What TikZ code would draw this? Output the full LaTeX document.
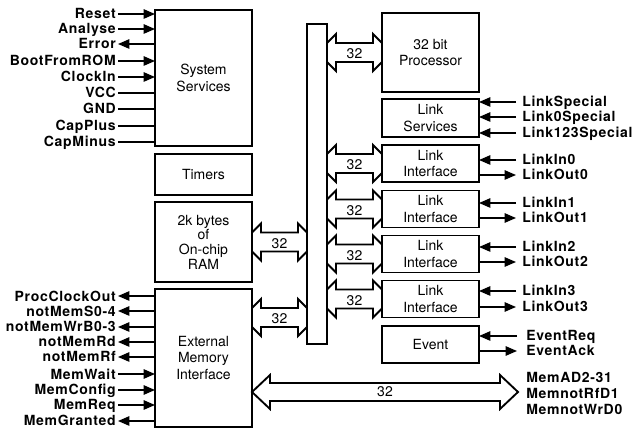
\documentclass[tikz,border=0pt]{standalone}
\usepackage{fontspec}
\setmainfont{TeX Gyre Heros}
\newfontfamily\pinfont[LetterSpace=5]{TeX Gyre Heros}
\usetikzlibrary{arrows.meta,calc}

% fat bus arrow, tips cut off by the boxes it joins
\newcommand{\busarrow}[3]{%
  \draw[busline] ($(#1)+(0,-9.5)$) -- ($(#1)+(9,-18.5)$) -- ($(#1)+(9,-9.5)$)
    -- ($(#2)+(-9,-9.5)$) -- ($(#2)+(-9,-18.5)$) -- ($(#2)+(0,-9.5)$)
    -- ($(#2)+(0,9.5)$) -- ($(#2)+(-9,18.5)$) -- ($(#2)+(-9,9.5)$)
    -- ($(#1)+(9,9.5)$) -- ($(#1)+(9,18.5)$) -- ($(#1)+(0,9.5)$) -- cycle;
  \node[buslabel] at ($($(#1)!.5!(#2)$)+(0,1.5)$) {#3};}
% fat bus arrow with pointed tips
\newcommand{\memarrow}[3]{%
  \draw[busline] (#1) -- ($(#1)+(18,-17)$) -- ($(#1)+(18,-9)$)
    -- ($(#2)+(-18,-9)$) -- ($(#2)+(-18,-17)$) -- (#2)
    -- ($(#2)+(-18,17)$) -- ($(#2)+(-18,9)$)
    -- ($(#1)+(18,9)$) -- ($(#1)+(18,17)$) -- cycle;
  \node[buslabel] at ($(#1)!.5!(#2)$) {#3};}

\begin{document}
\begin{tikzpicture}[x=0.75pt,y=-0.75pt,>={Triangle[length=8.5pt,width=7pt]},
    block/.style={draw,line width=1.4pt,inner sep=0pt,outer sep=0pt,
      minimum width=72.75pt,align=center,font=\fontsize{10.5}{12.5}\selectfont},
    pin/.style={font=\pinfont\bfseries\fontsize{10.5}{12}\selectfont,
      text height=7.5pt,text depth=0pt,inner ysep=0pt,inner xsep=1.5pt},
    rpin/.style={pin,anchor=west,inner xsep=4.5pt},
    lpin/.style={pin,anchor=east},
    busline/.style={line width=1.4pt,line join=miter},
    buslabel/.style={font=\fontsize{10.5}{12}\selectfont,inner sep=0pt}]
  \useasboundingbox (0,0) rectangle (637,435);

  % blocks
  \node[block,minimum height=102pt] (sys) at (203.5,78) {System\\Services};
  \node[block,minimum height=30.75pt] (tmr) at (203.5,174.5) {Timers};
  \node[block,minimum height=60pt,font=\fontsize{10.5}{11}\selectfont] (ram)
    at (203.5,242) {2k bytes\\of\\On-chip\\RAM};
  \node[block,minimum height=103.5pt] (emi) at (203.5,358) {External\\Memory\\Interface};
  \node[block,minimum width=15pt,minimum height=240pt] (bus) at (317,184) {};
  \node[block,minimum height=59.25pt] (cpu) at (430.5,52.5) {32 bit\\Processor};
  \node[block,minimum height=28.5pt] (lsv) at (430.5,118) {Link\\Services};
  \node[block,minimum height=27.75pt] (li0) at (430.5,163.5) {Link\\Interface};
  \node[block,minimum height=27.75pt] (li1) at (430.5,209) {Link\\Interface};
  \node[block,minimum height=27.75pt] (li2) at (430.5,254) {Link\\Interface};
  \node[block,minimum height=27.75pt] (li3) at (430.5,299) {Link\\Interface};
  \node[block,minimum height=27.75pt] (evt) at (430.5,344.5) {Event};

  % buses
  \busarrow{bus.east |- cpu.west}{cpu.west}{32}
  \busarrow{bus.east |- li0.west}{li0.west}{32}
  \busarrow{bus.east |- li1.west}{li1.west}{32}
  \busarrow{bus.east |- li2.west}{li2.west}{32}
  \busarrow{bus.east |- li3.west}{li3.west}{32}
  \busarrow{ram.east}{bus.west |- ram.east}{32}
  \coordinate (emibus) at ($(emi.north east)+(0,28.5)$);
  \busarrow{emibus}{bus.west |- emibus}{32}
  \coordinate (memtip) at (518,392);
  \memarrow{emi.east |- memtip}{memtip}{32}
  \node[font=\pinfont\bfseries\fontsize{10.5}{12}\selectfont,align=left,
    anchor=west,inner sep=0pt] (MemBus) at (526,393)
    {MemAD2-31\\MemnotRfD1\\MemnotWrD0};

  % system pins
  \node[lpin] (Reset) at (118,14) {Reset};
  \node[lpin] (Analyse) at (118,29) {Analyse};
  \node[lpin] (Error) at (118,44) {Error};
  \node[lpin] (BootFromROM) at (118,61) {BootFromROM};
  \node[lpin] (ClockIn) at (118,77) {ClockIn};
  \node[lpin] (VCC) at (118,93) {VCC};
  \node[lpin] (GND) at (118,109) {GND};
  \node[lpin] (CapPlus) at (118,126) {CapPlus};
  \node[lpin] (CapMinus) at (118,142) {CapMinus};

  % memory pins
  \node[lpin] (ProcClockOut) at (118,296) {ProcClockOut};
  \node[lpin] (notMemS) at (118,311) {notMemS0-4};
  \node[lpin] (notMemWrB) at (118,327) {notMemWrB0-3};
  \node[lpin] (notMemRd) at (118,342) {notMemRd};
  \node[lpin] (notMemRf) at (118,357) {notMemRf};
  \node[lpin] (MemWait) at (118,374) {MemWait};
  \node[lpin] (MemConfig) at (118,390) {MemConfig};
  \node[lpin] (MemReq) at (118,405) {MemReq};
  \node[lpin] (MemGranted) at (118,421) {MemGranted};

  % link and event pins
  \node[rpin] (LinkSpecial) at (516,102) {LinkSpecial};
  \node[rpin] (Link0Special) at (516,117) {Link0Special};
  \node[rpin] (Link123Special) at (516,133) {Link123Special};
  \node[rpin] (LinkIn0) at (516,160) {LinkIn0};
  \node[rpin] (LinkOut0) at (516,175) {LinkOut0};
  \node[rpin] (LinkIn1) at (516,203) {LinkIn1};
  \node[rpin] (LinkOut1) at (516,218) {LinkOut1};
  \node[rpin] (LinkIn2) at (516,247) {LinkIn2};
  \node[rpin] (LinkOut2) at (516,262) {LinkOut2};
  \node[rpin] (LinkIn3) at (516,291) {LinkIn3};
  \node[rpin] (LinkOut3) at (516,307) {LinkOut3};
  \node[rpin,inner xsep=6.75pt] (EventReq) at (517,336) {EventReq};
  \node[rpin,inner xsep=6.75pt] (EventAck) at (517,351) {EventAck};

  \path[line width=1.2pt]
    (Reset) edge[->] (sys.west |- Reset)
    (Analyse) edge[->] (sys.west |- Analyse)
    (sys.west |- Error) edge[->] (Error)
    (BootFromROM) edge[->] (sys.west |- BootFromROM)
    (ClockIn) edge[->] (sys.west |- ClockIn)
    (VCC) edge (sys.west |- VCC)
    (GND) edge (sys.west |- GND)
    (CapPlus) edge (sys.west |- CapPlus)
    (CapMinus) edge (sys.west |- CapMinus)
    (emi.west |- ProcClockOut) edge[->] (ProcClockOut)
    (emi.west |- notMemS) edge[->] (notMemS)
    (emi.west |- notMemWrB) edge[->] (notMemWrB)
    (emi.west |- notMemRd) edge[->] (notMemRd)
    (emi.west |- notMemRf) edge[->] (notMemRf)
    (MemWait) edge[->] (emi.west |- MemWait)
    (MemConfig) edge[->] (emi.west |- MemConfig)
    (MemReq) edge[->] (emi.west |- MemReq)
    (emi.west |- MemGranted) edge[->] (MemGranted)
    (LinkSpecial) edge[->] (lsv.east |- LinkSpecial)
    (Link0Special) edge[->] (lsv.east |- Link0Special)
    (Link123Special) edge[->] (lsv.east |- Link123Special)
    (LinkIn0) edge[->] (li0.east |- LinkIn0)
    (li0.east |- LinkOut0) edge[->] (LinkOut0)
    (LinkIn1) edge[->] (li1.east |- LinkIn1)
    (li1.east |- LinkOut1) edge[->] (LinkOut1)
    (LinkIn2) edge[->] (li2.east |- LinkIn2)
    (li2.east |- LinkOut2) edge[->] (LinkOut2)
    (LinkIn3) edge[->] (li3.east |- LinkIn3)
    (li3.east |- LinkOut3) edge[->] (LinkOut3)
    (EventReq) edge[->] (evt.east |- EventReq)
    (evt.east |- EventAck) edge[->] (EventAck);
\end{tikzpicture}
\end{document}
